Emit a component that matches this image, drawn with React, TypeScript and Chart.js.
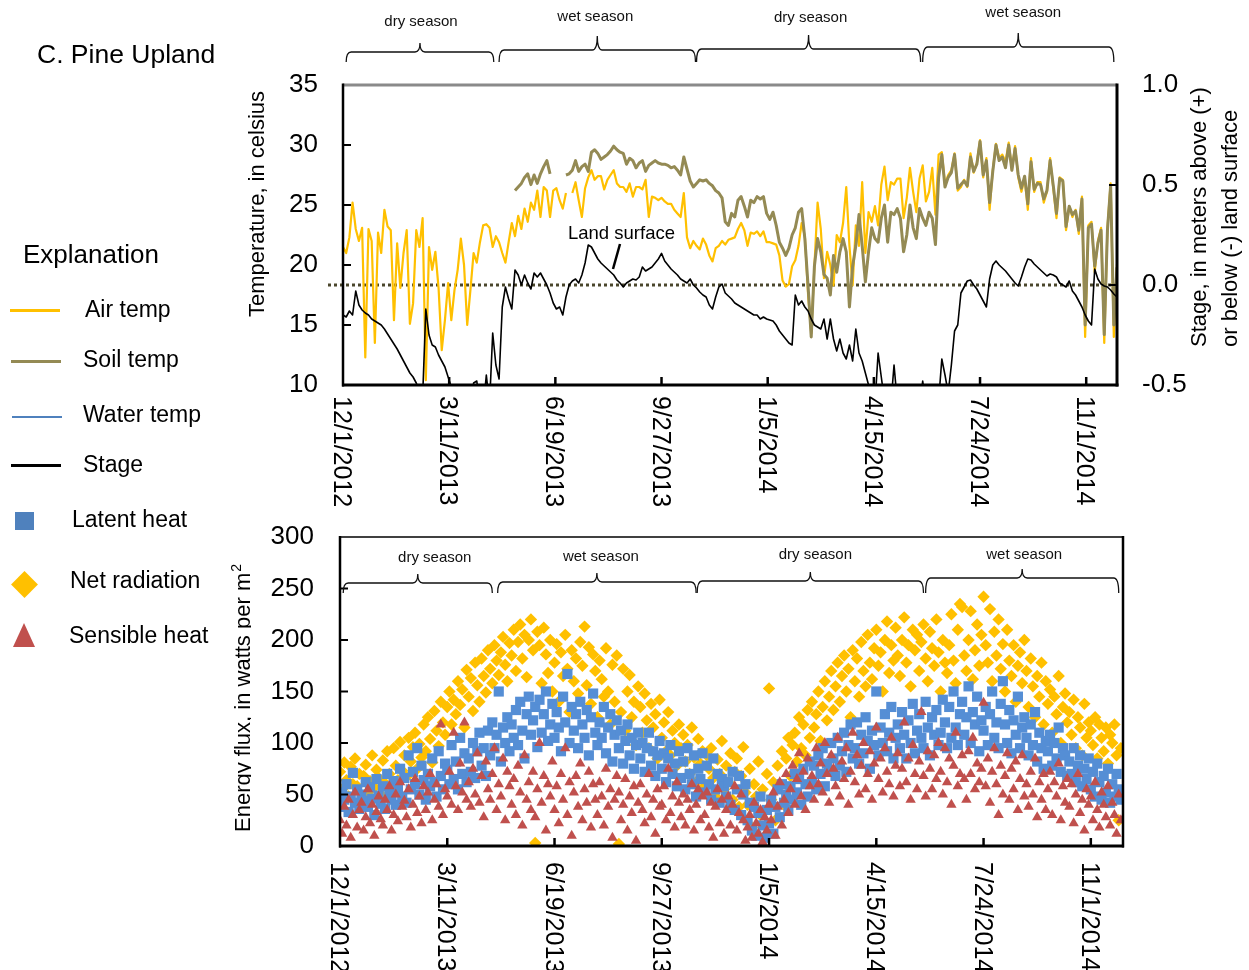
import React, { useEffect, useRef } from 'react';
import { Chart, registerables } from 'chart.js';

Chart.register(...registerables);

const FONT = "'Liberation Sans', Arial, Helvetica, sans-serif";

// ---- x axis (days since 12/1/2012) ----
const DAY_STEP = 3; // temperature / stage series: one value every 3 days
const FLUX_STEP = 2; // energy flux series: one value every 2 days
const xTickDays = [0, 100, 200, 300, 400, 500, 600, 700];
const xTickLabels = ['12/1/2012', '3/11/2013', '6/19/2013', '9/27/2013', '1/5/2014', '4/15/2014', '7/24/2014', '11/1/2014'];

// ---- seasons (day ranges) ----
const seasonNames = ['dry season', 'wet season', 'dry season', 'wet season'];
const seasonStart = [3, 147, 333, 546];
const seasonEnd = [142, 332, 544, 726];

// ---- top chart series ----
const airTemp = [
  21.5, 21.0, 22.3, 25.2, 23.0, 22.0, 23.1, 12.3, 23.0, 22.0,
  13.5, 22.7, 21.0, 24.6, 23.2, 22.9, 15.4, 21.8, 18.1, 21.0,
  22.9, 15.1, 16.8, 22.9, 21.5, 23.9, 10.4, 21.5, 19.6, 21.1,
  18.1, 12.9, 15.4, 18.5, 15.4, 17.9, 19.6, 22.2, 20.0, 15.0,
  17.9, 21.0, 20.2, 21.9, 23.3, 23.4, 23.1, 21.5, 22.4, 21.9,
  21.0, 20.2, 21.9, 23.5, 22.4, 24.1, 23.0, 24.7, 23.6, 25.2,
  24.6, 26.2, 24.0, 26.5, 26.2, 24.0, 26.2, 26.4, 25.4, 24.7,
  26.0, null, 26.0, 26.9, 25.4, 24.0, 26.4, 27.3, 27.9, 27.1,
  27.4, 27.4, 26.3, 27.1, 27.5, 27.9, 26.8, 26.5, 26.5, 26.1,
  26.8, 25.7, 26.5, 26.5, 26.3, 27.1, 24.0, 25.7, 25.6, 25.4,
  25.6, 25.3, 25.1, 25.1, 24.6, 24.3, 24.0, 26.0, 22.3, 21.4,
  22.0, 21.6, 21.3, 22.2, 21.7, 20.8, 20.3, 21.4, 21.6, 22.0,
  21.7, 22.1, 22.2, 22.3, 23.0, 23.5, 22.9, 21.6, 22.7, 22.6,
  22.8, 22.4, 22.8, 21.9, 21.9, 21.8, 21.7, 20.8, 18.7, 18.2,
  18.4, 19.9, 20.4, 21.6, 23.5, 22.4, 17.6, 14.3, 19.9, 25.2,
  23.0, 18.9, 21.1, 20.0, 18.3, 22.5, 21.9, 23.5, 26.5, 21.6,
  18.3, 23.3, 21.6, 26.9, 21.0, 24.4, 23.6, 24.9, 23.3, 26.7,
  28.2, 25.4, 26.9, 26.7, 27.2, 27.2, 23.9, 25.6, 28.1, 26.1,
  24.4, 27.2, 28.3, 25.3, 26.1, 28.1, 24.2, 29.2, 29.4, 26.7,
  27.5, 27.9, 29.3, 26.2, 26.5, 27.1, 26.5, 29.3, 27.7, 28.5,
  30.4, 27.3, 28.9, 24.6, 27.9, 30.1, 28.9, 29.2, 28.6, 30.2,
  27.9, 29.9, 27.3, 26.1, 27.3, 24.6, 28.9, 26.1, 26.9, 26.9,
  25.2, 26.1, 28.9, 26.4, 23.9, 27.3, 27.1, 22.9, 24.9, 24.0,
  24.6, 22.6, 25.7, 14.0, 23.3, 23.6, 19.4, 22.0, 23.1, 13.5,
  23.1, 26.8, 14.0, 20.1,
];

const soilTemp = [
  null, null, null, null, null, null, null, null, null, null,
  null, null, null, null, null, null, null, null, null, null,
  null, null, null, null, null, null, null, null, null, null,
  null, null, null, null, null, null, null, null, null, null,
  null, null, null, null, null, null, null, null, null, null,
  null, null, null, null, 26.2, 26.5, 26.8, 27.3, 27.6, 26.7,
  27.5, 26.8, 27.6, 28.2, 28.7, 27.6, null, null, null, null,
  27.5, 27.6, 27.9, 28.7, 27.8, 28.2, 28.4, 27.8, 29.4, 29.6,
  29.3, 28.8, 29.0, 29.2, 29.5, 29.9, 29.6, 29.4, 29.3, 28.4,
  28.9, 28.7, 28.1, 28.5, 28.7, 27.8, 28.3, 28.5, 28.7, 28.5,
  28.4, 28.4, 28.3, 28.1, 28.2, 27.9, 27.5, 29.0, 28.0, 27.0,
  26.5, 26.8, 27.1, 27.0, 27.1, 26.8, 26.6, 26.2, 26.0, 25.6,
  23.6, 23.3, 24.3, 24.0, 25.4, 25.7, 24.9, 24.0, 25.4, 25.2,
  25.7, 25.5, 25.7, 24.3, 23.8, 24.4, 23.3, 21.9, 21.4, 20.8,
  21.4, 22.5, 23.1, 24.4, 24.7, 22.2, 18.3, 14.0, 19.9, 22.2,
  21.1, 19.2, 18.9, 17.5, 20.8, 19.4, 21.1, 22.2, 21.1, 16.5,
  19.9, 21.6, 24.2, 21.6, 18.6, 21.1, 23.1, 22.2, 21.9, 23.9,
  25.0, 21.9, 24.4, 24.2, 24.7, 23.9, 21.1, 22.5, 25.0, 23.1,
  22.2, 24.7, 23.9, 23.3, 24.4, 23.9, 21.7, 27.3, 29.2, 26.5,
  27.3, 27.7, 29.2, 26.4, 26.7, 27.0, 26.6, 29.0, 27.8, 28.4,
  30.3, 27.5, 28.7, 25.2, 27.8, 30.0, 28.7, 29.0, 28.1, 30.0,
  27.9, 29.7, 27.5, 26.4, 27.4, 25.1, 28.6, 26.3, 26.8, 26.7,
  25.5, 26.2, 28.7, 26.6, 24.3, 27.2, 27.0, 23.2, 24.9, 24.2,
  24.5, 22.9, 25.5, 15.0, 23.1, 23.4, 19.9, 21.8, 22.9, 14.2,
  22.9, 26.6, 15.0, 19.8,
];

const stage = [
  -0.15, -0.16, -0.13, -0.15, -0.03, -0.10, -0.125, -0.14, -0.15, -0.17,
  -0.18, -0.19, -0.20, -0.22, -0.245, -0.27, -0.295, -0.32, -0.35, -0.38,
  -0.41, -0.44, -0.46, -0.49, -0.53, -0.56, -0.12, -0.25, -0.30, -0.31,
  -0.35, -0.38, -0.41, -0.46, -0.51, -0.55, -0.58, -0.60, -0.62, -0.64,
  -0.62, -0.49, -0.48, -0.60, -0.62, -0.45, -0.60, -0.24, -0.40, -0.47,
  -0.11, -0.01, -0.07, -0.12, 0.075, 0.05, 0.0, 0.05, 0.01, -0.02,
  0.06, 0.04, 0.06, 0.03, 0.0, -0.04, -0.09, -0.12, -0.11, -0.15,
  -0.06, 0.0, 0.02, 0.03, 0.01, 0.05, 0.11, 0.20, 0.19, 0.16,
  0.13, 0.11, 0.095, 0.08, 0.065, 0.05, 0.025, 0.01, -0.01, 0.01,
  0.02, 0.03, 0.025, 0.04, 0.09, 0.07, 0.08, 0.09, 0.11, 0.13,
  0.158, 0.12, 0.10, 0.08, 0.065, 0.05, 0.03, 0.02, 0.01, 0.03,
  0.0, -0.015, -0.035, -0.05, -0.06, -0.10, -0.12, -0.06, -0.01, 0.005,
  -0.04, -0.055, -0.07, -0.09, -0.10, -0.11, -0.12, -0.13, -0.14, -0.15,
  -0.15, -0.17, -0.16, -0.17, -0.175, -0.18, -0.20, -0.23, -0.25, -0.27,
  -0.29, -0.30, -0.05, -0.10, -0.08, -0.11, -0.13, -0.17, -0.20, -0.21,
  -0.22, -0.17, -0.27, -0.17, -0.27, -0.33, -0.27, -0.34, -0.37, -0.30,
  -0.38, -0.22, -0.34, -0.38, -0.44, -0.50, -0.56, -0.60, -0.34, -0.46,
  -0.58, -0.62, -0.60, -0.40, -0.58, -0.62, -0.64, -0.65, -0.66, -0.65,
  -0.64, -0.60, -0.48, -0.60, -0.64, -0.65, -0.62, -0.58, -0.37, -0.45,
  -0.54, -0.40, -0.23, -0.20, -0.04, -0.01, 0.02, 0.025, 0.0, -0.02,
  -0.05, -0.08, -0.11, 0.03, 0.10, 0.12, 0.10, 0.085, 0.07, 0.05,
  0.03, 0.01, -0.005, 0.04, 0.09, 0.13, 0.125, 0.105, 0.09, 0.075,
  0.06, 0.045, 0.055, 0.05, 0.04, 0.01, 0.0, -0.01, 0.02, -0.03,
  -0.05, -0.08, -0.11, -0.15, -0.18, -0.20, 0.08, 0.03, 0.005, -0.005,
  -0.01, -0.025, -0.045, -0.06,
];

// ---- bottom chart series (W/m2) ----
const netRadiation = [
  72, 55, 81, 64, 48, 77, 60, 85, 58, 70,
  45, 68, 79, 52, 63, 88, 57, 74, 66, 50,
  83, 61, 92, 70, 56, 95, 78, 64, 101, 73,
  88, 67, 105, 82, 96, 110, 75, 99, 86, 118,
  92, 125, 104, 81, 131, 112, 97, 140, 120, 108,
  135, 150, 118, 142, 128, 160, 137, 152, 115, 171,
  145, 163, 131, 178, 156, 140, 182, 165, 149, 190,
  172, 158, 195, 180, 166, 188, 203, 176, 160, 197,
  185, 210, 170, 198, 215, 182, 205, 164, 200, 220,
  190, 3, 208, 195, 158, 212, 186, 168, 200, 150,
  178, 196, 140, 188, 165, 205, 172, 130, 190, 160,
  182, 148, 198, 175, 213, 156, 193, 138, 186, 170,
  125, 180, 162, 145, 192, 150, 118, 176, 140, 185,
  2, 130, 172, 112, 150, 166, 125, 140, 98, 155,
  135, 110, 148, 122, 95, 138, 115, 128, 85, 142,
  105, 120, 92, 130, 88, 112, 100, 78, 118, 95,
  108, 82, 98, 70, 115, 86, 62, 104, 80, 92,
  58, 88, 75, 95, 66, 48, 84, 70, 102, 55,
  78, 62, 90, 45, 72, 85, 38, 68, 96, 52,
  40, 75, 18, 60, 48, 82, 30, 55, 8, 70,
  153, 45, 62, 25, 78, 58, 92, 40, 85, 105,
  68, 98, 110, 82, 125, 95, 118, 88, 132, 105,
  140, 115, 128, 150, 102, 135, 160, 122, 145, 170,
  132, 155, 178, 140, 165, 185, 150, 172, 125, 190,
  160, 182, 145, 198, 170, 155, 205, 178, 162, 192,
  210, 175, 188, 150, 200, 218, 168, 195, 180, 212,
  185, 165, 200, 222, 178, 195, 155, 210, 190, 205,
  170, 198, 215, 182, 160, 208, 192, 175, 220, 188,
  150, 200, 178, 168, 195, 225, 180, 158, 210, 235,
  232, 185, 170, 200, 228, 162, 190, 215, 175, 205,
  242, 195, 178, 230, 160, 208, 185, 220, 172, 196,
  150, 210, 180, 165, 195, 140, 175, 188, 158, 200,
  170, 135, 182, 155, 125, 165, 145, 178, 118, 160,
  138, 152, 110, 145, 128, 165, 100, 135, 148, 120,
  130, 108, 142, 95, 125, 115, 88, 138, 105, 120,
  112, 98, 125, 85, 118, 105, 92, 115, 80, 108,
  100, 118, 88, 25, 95,
];

const latentHeat = [
  38, 52, 45, 60, 33, 48, 71, 42, 55, 36,
  50, 44, 62, 38, 57, 46, 30, 65, 49, 41,
  58, 36, 70, 52, 45, 63, 40, 56, 75, 48,
  66, 42, 88, 55, 72, 60, 95, 50, 78, 64,
  45, 70, 58, 85, 62, 48, 92, 68, 55, 80,
  74, 60, 98, 65, 82, 55, 105, 70, 90, 62,
  85, 72, 100, 66, 92, 110, 78, 95, 68, 112,
  88, 120, 95, 108, 150, 82, 115, 100, 125, 92,
  118, 105, 132, 98, 140, 112, 85, 128, 145, 108,
  122, 135, 96, 142, 110, 128, 150, 102, 118, 138,
  105, 130, 115, 92, 145, 120, 167, 100, 135, 112,
  128, 95, 140, 118, 105, 132, 88, 125, 148, 110,
  98, 120, 105, 135, 90, 115, 128, 82, 108, 122,
  95, 112, 80, 102, 118, 88, 105, 75, 98, 110,
  85, 100, 72, 95, 110, 78, 92, 68, 88, 102,
  75, 90, 62, 85, 98, 70, 80, 58, 92, 66,
  82, 55, 95, 70, 60, 88, 48, 75, 65, 90,
  52, 78, 60, 45, 85, 55, 70, 42, 65, 58,
  48, 62, 40, 72, 35, 55, 68, 30, 50, 60,
  25, 42, 15, 38, 10, 32, 48, 20, 8, 35,
  22, 45, 12, 38, 55, 28, 60, 42, 50, 35,
  58, 45, 70, 52, 65, 40, 75, 60, 48, 82,
  62, 78, 55, 88, 70, 95, 58, 80, 72, 100,
  85, 68, 105, 78, 92, 110, 72, 98, 118, 85,
  95, 120, 80, 108, 90, 125, 102, 75, 112, 98,
  150, 88, 115, 100, 128, 92, 110, 135, 85, 105,
  118, 95, 130, 108, 85, 122, 100, 138, 90, 112,
  128, 105, 95, 140, 115, 88, 125, 108, 132, 98,
  110, 142, 120, 95, 135, 105, 150, 115, 98, 128,
  140, 108, 125, 155, 100, 130, 118, 145, 92, 122,
  112, 135, 98, 128, 150, 105, 120, 95, 138, 160,
  118, 100, 132, 90, 122, 108, 145, 95, 115, 125,
  105, 88, 118, 98, 130, 82, 110, 95, 75, 102,
  92, 108, 78, 100, 85, 115, 72, 95, 88, 68,
  82, 70, 95, 62, 78, 88, 58, 75, 65, 85,
  55, 72, 48, 80, 62, 45, 68, 52, 75, 42,
  60, 48, 70, 55, 45,
];

const sensibleHeat = [
  25, 12, 38, 20, 45, 8, 30, 52, 18, 35,
  42, 15, 28, 55, 22, 40, 10, 33, 48, 26,
  20, 45, 35, 58, 15, 30, 50, 24, 62, 38,
  44, 28, 55, 18, 40, 65, 32, 48, 22, 58,
  35, 52, 70, 25, 45, 60, 38, 118, 30, 55,
  48, 72, 40, 110, 58, 35, 80, 52, 120, 45,
  62, 38, 75, 50, 90, 42, 68, 28, 82, 55,
  45, 70, 95, 35, 60, 48, 85, 25, 72, 58,
  40, 65, 30, 78, 52, 20, 88, 45, 62, 35,
  72, 28, 55, 100, 42, 68, 15, 60, 48, 82,
  35, 58, 22, 70, 45, 95, 30, 62, 10, 52,
  68, 38, 80, 25, 55, 42, 72, 18, 60, 45,
  30, 62, 48, 20, 75, 38, 55, 8, 45, 68,
  52, 25, 40, 65, 15, 48, 32, 58, 5, 42,
  60, 35, 22, 50, 70, 28, 45, 12, 55, 38,
  40, 58, 25, 75, 32, 48, 18, 62, 42, 28,
  50, 20, 45, 35, 60, 15, 40, 55, 25, 48,
  30, 52, 18, 42, 8, 38, 55, 22, 45, 12,
  35, 48, 20, 40, 58, 15, 32, 50, 25, 5,
  18, 30, 8, 42, 22, 12, 35, 4, 28, 15,
  40, 25, 52, 10, 38, 62, 20, 45, 70, 32,
  55, 78, 40, 65, 90, 48, 72, 35, 85, 58,
  68, 45, 95, 60, 80, 52, 100, 70, 42, 88,
  75, 58, 105, 48, 82, 65, 95, 40, 72, 110,
  62, 88, 50, 78, 100, 55, 70, 92, 45, 80,
  115, 65, 85, 52, 95, 72, 60, 105, 48, 78,
  90, 58, 75, 120, 62, 85, 45, 98, 70, 55,
  82, 130, 68, 48, 92, 75, 55, 88, 65, 100,
  72, 50, 95, 62, 85, 40, 78, 110, 58, 70,
  88, 65, 45, 92, 70, 105, 55, 80, 62, 75,
  139, 58, 85, 42, 72, 95, 60, 30, 78, 50,
  68, 90, 45, 75, 55, 82, 35, 65, 88, 48,
  60, 38, 72, 50, 85, 28, 62, 45, 70, 35,
  55, 72, 30, 62, 48, 80, 25, 58, 42, 65,
  38, 60, 22, 50, 70, 32, 45, 15, 55, 40,
  48, 25, 62, 35, 18, 52, 40, 28, 58, 20,
  42, 30, 12, 50, 25,
];

const toXY = (arr: (number | null)[], step: number) => arr.map((v, i) => ({ x: i * step, y: v }));

function seg(ctx: any, x1: number, y1: number, x2: number, y2: number, color: string, w: number) {
  ctx.save();
  ctx.strokeStyle = color;
  ctx.lineWidth = w;
  ctx.beginPath();
  ctx.moveTo(x1, y1);
  ctx.lineTo(x2, y2);
  ctx.stroke();
  ctx.restore();
}

function drawBrace(ctx: any, x1: number, x2: number, yLine: number, yEnd: number, yPeak: number) {
  const xm = (x1 + x2) / 2;
  const r = 5;
  ctx.beginPath();
  ctx.moveTo(x1, yEnd);
  ctx.quadraticCurveTo(x1, yLine, x1 + r, yLine);
  ctx.lineTo(xm - r, yLine);
  ctx.quadraticCurveTo(xm, yLine, xm, yPeak);
  ctx.quadraticCurveTo(xm, yLine, xm + r, yLine);
  ctx.lineTo(x2 - r, yLine);
  ctx.quadraticCurveTo(x2, yLine, x2, yEnd);
  ctx.stroke();
}

function drawSeasons(ctx: any, xs: any, lineY: number[], peakDy: number[], endY: number, labelY: number[], labelDx: number[]) {
  ctx.save();
  ctx.strokeStyle = '#111';
  ctx.lineWidth = 1.3;
  ctx.fillStyle = '#111';
  ctx.font = `15px ${FONT}`;
  ctx.textAlign = 'center';
  ctx.textBaseline = 'middle';
  seasonNames.forEach((name, i) => {
    const x1 = xs.getPixelForValue(seasonStart[i]);
    const x2 = xs.getPixelForValue(seasonEnd[i]);
    drawBrace(ctx, x1, x2, lineY[i], endY, lineY[i] - peakDy[i]);
    ctx.fillText(name, (x1 + x2) / 2 + labelDx[i], labelY[i]);
  });
  ctx.restore();
}

function drawXLabels(ctx: any, xs: any, y0: number) {
  ctx.save();
  ctx.fillStyle = '#000';
  const fs = 25;
  ctx.font = `${fs}px ${FONT}`;
  ctx.textAlign = 'left';
  ctx.textBaseline = 'alphabetic';
  xTickDays.forEach((d, i) => {
    const px = xs.getPixelForValue(d);
    ctx.save();
    ctx.translate(px, y0);
    ctx.rotate(Math.PI / 2);
    ctx.fillText(xTickLabels[i], 0, fs * 0.358);
    ctx.restore();
  });
  ctx.restore();
}

const topPlugin = {
  id: 'topDeco',
  beforeDatasetsDraw(chart: any) {
    const { ctx, chartArea: a } = chart;
    const y0 = chart.scales.yS.getPixelForValue(0);
    ctx.save();
    ctx.strokeStyle = '#4a462c';
    ctx.lineWidth = 3;
    ctx.setLineDash([3, 3]);
    ctx.beginPath();
    ctx.moveTo(a.left - 15, y0);
    ctx.lineTo(a.right, y0);
    ctx.stroke();
    ctx.restore();
  },
  afterDraw(chart: any) {
    const { ctx, chartArea: a, scales } = chart;
    const xs = scales.x, yT = scales.yT, yS = scales.yS;
    // frame
    seg(ctx, a.left, a.top, a.right, a.top, '#8a8a8a', 3);
    seg(ctx, a.left, a.top - 1.5, a.left, a.bottom + 1.5, '#000', 2.5);
    seg(ctx, a.right, a.top - 1.5, a.right, a.bottom + 1.5, '#000', 3);
    seg(ctx, a.left - 1, a.bottom, a.right + 1.5, a.bottom, '#000', 3);
    // inner tick marks
    xTickDays.forEach((d) => {
      if (d === 0) return;
      const px = xs.getPixelForValue(d);
      seg(ctx, px, a.bottom, px, a.bottom - 8, '#000', 2.5);
    });
    yT.ticks.forEach((t: any) => {
      if (t.value <= yT.min || t.value >= yT.max) return;
      const py = yT.getPixelForValue(t.value);
      seg(ctx, a.left, py, a.left + 8, py, '#000', 2);
    });
    yS.ticks.forEach((t: any) => {
      if (t.value <= yS.min || t.value >= yS.max) return;
      const py = yS.getPixelForValue(t.value);
      seg(ctx, a.right, py, a.right - 8, py, '#000', 2);
    });
    drawXLabels(ctx, xs, a.bottom + 11);
    // axis titles
    ctx.save();
    ctx.fillStyle = '#000';
    ctx.font = `22px ${FONT}`;
    ctx.textBaseline = 'alphabetic';
    ctx.save();
    ctx.translate(264, 204);
    ctx.rotate(-Math.PI / 2);
    ctx.textAlign = 'center';
    ctx.fillText('Temperature, in celsius', 0, 0);
    ctx.restore();
    ctx.save();
    ctx.translate(1206, 347);
    ctx.rotate(-Math.PI / 2);
    ctx.textAlign = 'left';
    ctx.fillText('Stage, in meters above (+)', 0, 0);
    ctx.restore();
    ctx.save();
    ctx.translate(1237, 347);
    ctx.rotate(-Math.PI / 2);
    ctx.textAlign = 'left';
    ctx.fillText('or below (-) land surface', 0, 0);
    ctx.restore();
    // land surface annotation
    ctx.font = `18.5px ${FONT}`;
    ctx.textAlign = 'left';
    ctx.fillText('Land surface', 568, 239);
    ctx.restore();
    seg(ctx, 620, 244, 613, 269, '#000', 2.5);
    // seasons
    drawSeasons(ctx, xs, [52, 50, 49, 47], [9, 14, 14, 14], 62, [22, 17, 18, 13], [1, -2, 2, 5]);
  },
};

const botPlugin = {
  id: 'botDeco',
  afterDraw(chart: any) {
    const { ctx, chartArea: a, scales } = chart;
    const xs = scales.x, y = scales.y;
    seg(ctx, a.left, a.top, a.right, a.top, '#000', 1.5);
    seg(ctx, a.left, a.top - 1, a.left, a.bottom + 1.5, '#000', 2.5);
    seg(ctx, a.right, a.top - 1, a.right, a.bottom + 1.5, '#000', 2.5);
    seg(ctx, a.left - 1, a.bottom, a.right + 1, a.bottom, '#000', 3);
    xTickDays.forEach((d) => {
      if (d === 0) return;
      const px = xs.getPixelForValue(d);
      seg(ctx, px, a.bottom, px, a.bottom - 8, '#000', 2.5);
    });
    y.ticks.forEach((t: any) => {
      if (t.value <= y.min || t.value >= y.max) return;
      const py = y.getPixelForValue(t.value);
      seg(ctx, a.left, py, a.left + 8, py, '#000', 2);
    });
    drawXLabels(ctx, xs, a.bottom + 16);
    // y title (clipped on its right side, as in the original figure)
    ctx.save();
    ctx.beginPath();
    ctx.rect(0, 0, 251, chart.height);
    ctx.clip();
    ctx.fillStyle = '#000';
    ctx.translate(250, a.bottom - 14);
    ctx.rotate(-Math.PI / 2);
    ctx.textAlign = 'left';
    ctx.textBaseline = 'alphabetic';
    ctx.font = `22px ${FONT}`;
    const main = 'Energy flux, in watts per m';
    ctx.fillText(main, 0, 0);
    const w = ctx.measureText(main).width;
    ctx.font = `14px ${FONT}`;
    ctx.fillText('2', w + 1, -9);
    ctx.restore();
    const t = a.top;
    drawSeasons(ctx, xs, [t + 46, t + 45, t + 44, t + 41], [9, 9, 9, 9], t + 56, [t + 21, t + 20, t + 18, t + 18], [17, 4, 5, 2]);
  },
};

const tickFont = { family: FONT, size: 26 };

// bottom canvas placement (page px)
const BOT_TOP = 465;
const BOT_H = 505;

export default function App() {
  const topRef = useRef<HTMLCanvasElement>(null);
  const botRef = useRef<HTMLCanvasElement>(null);

  useEffect(() => {
    const lineBase = { pointRadius: 0, tension: 0, clip: 0, spanGaps: false, borderJoinStyle: 'round' as const };
    const top = new Chart(topRef.current as HTMLCanvasElement, {
      type: 'line',
      data: {
        datasets: [
          { ...lineBase, label: 'Stage', data: toXY(stage, DAY_STEP), yAxisID: 'yS', borderColor: '#000000', borderWidth: 1.6 },
          { ...lineBase, label: 'Soil temp', data: toXY(soilTemp, DAY_STEP), yAxisID: 'yT', borderColor: '#948A54', borderWidth: 3 },
          { ...lineBase, label: 'Air temp', data: toXY(airTemp, DAY_STEP), yAxisID: 'yT', borderColor: '#FFC000', borderWidth: 2.2 },
        ] as any,
      },
      options: {
        responsive: false,
        maintainAspectRatio: false,
        animation: false,
        events: [],
        layout: { padding: { top: 85, bottom: 140, left: 0, right: 0 } },
        plugins: { legend: { display: false }, tooltip: { enabled: false } },
        scales: {
          x: {
            type: 'linear', min: 0, max: 729, display: true,
            grid: { display: false, drawTicks: false }, border: { display: false },
            ticks: { display: false, stepSize: 100 },
            afterFit: (s: any) => { s.height = 0; },
          },
          yT: {
            type: 'linear', position: 'left', min: 10, max: 35,
            ticks: { stepSize: 5, font: tickFont, color: '#000', padding: 25 },
            grid: { display: false, drawTicks: false }, border: { display: false },
            afterFit: (s: any) => { s.width = 343; },
          },
          yS: {
            type: 'linear', position: 'right', min: -0.5, max: 1.0,
            ticks: { stepSize: 0.5, font: tickFont, color: '#000', padding: 25, callback: (v: any) => Number(v).toFixed(1) },
            grid: { display: false, drawTicks: false }, border: { display: false },
            afterFit: (s: any) => { s.width = 132; },
          },
        } as any,
      },
      plugins: [topPlugin],
    });

    const bot = new Chart(botRef.current as HTMLCanvasElement, {
      type: 'scatter',
      data: {
        datasets: [
          { label: 'Sensible heat', data: toXY(sensibleHeat, FLUX_STEP), pointStyle: 'triangle', pointRadius: 6, backgroundColor: '#C0504D', borderWidth: 0, pointBorderWidth: 0 },
          { label: 'Latent heat', data: toXY(latentHeat, FLUX_STEP), pointStyle: 'rect', pointRadius: 7.2, backgroundColor: '#558ED5', borderWidth: 0, pointBorderWidth: 0 },
          { label: 'Net radiation', data: toXY(netRadiation, FLUX_STEP), pointStyle: 'rectRot', pointRadius: 6.2, backgroundColor: '#FFC000', borderWidth: 0, pointBorderWidth: 0 },
        ] as any,
      },
      options: {
        responsive: false,
        maintainAspectRatio: false,
        animation: false,
        events: [],
        layout: { padding: { top: 537 - BOT_TOP, bottom: BOT_H - (846 - BOT_TOP), left: 0, right: 126 } },
        plugins: { legend: { display: false }, tooltip: { enabled: false } },
        scales: {
          x: {
            type: 'linear', min: 0, max: 730, display: true,
            grid: { display: false, drawTicks: false }, border: { display: false },
            ticks: { display: false, stepSize: 100 },
            afterFit: (s: any) => { s.height = 0; },
          },
          y: {
            type: 'linear', position: 'left', min: 0, max: 300,
            ticks: { stepSize: 50, font: tickFont, color: '#000', padding: 26 },
            grid: { display: false, drawTicks: false }, border: { display: false },
            afterFit: (s: any) => { s.width = 340; },
          },
        } as any,
      },
      plugins: [botPlugin],
    });

    return () => {
      top.destroy();
      bot.destroy();
    };
  }, []);

  const txt = (left: number, top: number, size: number, s: string) => (
    <div style={{ position: 'absolute', left, top, fontSize: size, lineHeight: 1, whiteSpace: 'nowrap', color: '#000' }}>{s}</div>
  );
  const bar = (left: number, top: number, width: number, height: number, color: string) => (
    <div style={{ position: 'absolute', left, top, width, height, background: color }} />
  );

  return (
    <div style={{ position: 'absolute', left: 0, top: 0, width: 1249, height: 970, background: '#fff', fontFamily: FONT, overflow: 'hidden' }}>
      <canvas ref={topRef} width={1249} height={525} style={{ position: 'absolute', left: 0, top: 0 }} />
      <canvas ref={botRef} width={1249} height={BOT_H} style={{ position: 'absolute', left: 0, top: BOT_TOP }} />
      {txt(37, 41, 26.5, 'C. Pine Upland')}
      {txt(23, 241, 26, 'Explanation')}
      {bar(10, 309, 50, 2.5, '#FFC000')}
      {txt(85, 297.5, 23, 'Air temp')}
      {bar(11, 359.5, 50, 3, '#948A54')}
      {txt(83, 348, 23, 'Soil temp')}
      {bar(12, 415.5, 50, 2.5, '#4F81BD')}
      {txt(83, 403, 23, 'Water temp')}
      {bar(11, 463.5, 50, 3, '#000000')}
      {txt(83, 453, 23, 'Stage')}
      {bar(15, 512, 19, 18, '#4F81BD')}
      {txt(72, 508, 23, 'Latent heat')}
      <div style={{ position: 'absolute', left: 14.5, top: 575, width: 19, height: 19, background: '#FFC000', transform: 'rotate(45deg)' }} />
      {txt(70, 569, 23, 'Net radiation')}
      <div style={{ position: 'absolute', left: 13, top: 623, width: 0, height: 0, borderLeft: '11.5px solid transparent', borderRight: '11.5px solid transparent', borderBottom: '24px solid #C0504D' }} />
      {txt(69, 624, 23, 'Sensible heat')}
    </div>
  );
}
